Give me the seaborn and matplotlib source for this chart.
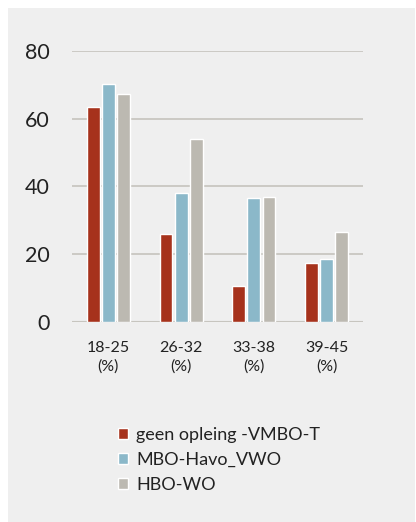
import pandas as pd
import seaborn as sns
import matplotlib.pyplot as plt
from matplotlib.patches import Rectangle

# data
age_groups = ["18-25\n(%)", "26-32\n(%)", "33-38\n(%)", "39-45\n(%)"]
geen_vmbo = [63.5, 26.0, 10.6, 17.4]
mbo_havo_vwo = [70.3, 38.2, 36.6, 18.6]
hbo_wo = [67.3, 54.0, 37.0, 26.7]
series_names = ["geen opleing -VMBO-T", "MBO-Havo_VWO", "HBO-WO"]
colors = ["#a6321c", "#8bb8c9", "#bcb9b1"]

df = pd.DataFrame({
    "group": age_groups * 3,
    "serie": [series_names[0]] * 4 + [series_names[1]] * 4 + [series_names[2]] * 4,
    "value": geen_vmbo + mbo_havo_vwo + hbo_wo,
})

sns.set_style("white")
plt.rcParams["font.family"] = ["Lato", "DejaVu Sans"]

fig = plt.figure(figsize=(4.16, 5.22), dpi=100, facecolor="white")
# light grey panel behind everything
fig.patches.append(Rectangle((8 / 416, 0), 1 - 9 / 416, 1 - 8 / 522,
                             transform=fig.transFigure, facecolor="#efefef",
                             edgecolor="none", zorder=-10))

ax = fig.add_axes([72 / 416, 1 - 322 / 522, 291 / 416, 271 / 522])
ax.set_facecolor("none")

sns.barplot(data=df, x="group", y="value", hue="serie", palette=colors,
            width=0.62, gap=0.15, saturation=1, ax=ax, legend=True)

ax.set_ylim(0, 80)
ax.set_xlim(-0.5, 3.5)
ax.set_yticks([0, 20, 40, 60, 80])
ax.yaxis.grid(True, color="#c9c7c1", linewidth=1.3)
ax.set_axisbelow(True)
for s in ax.spines.values():
    s.set_visible(False)
ax.axhline(0, color="#bdbbb5", linewidth=1.5, zorder=0.5)
ax.tick_params(axis="y", length=0, pad=16, labelsize=15.5, labelcolor="#222222")
ax.tick_params(axis="x", length=0, pad=14, labelsize=11.5, labelcolor="#222222")
for lbl in ax.get_xticklabels():
    lbl.set_linespacing(1.35)
ax.set_xlabel("")
ax.set_ylabel("")

handles, labels = ax.get_legend_handles_labels()
ax.get_legend().remove()
fig.legend(handles, labels, loc="upper left", bbox_to_anchor=(102 / 416, 1 - 411 / 522),
           frameon=False, fontsize=13, handlelength=0.55, handleheight=0.55,
           handletextpad=0.45, labelspacing=0.5, labelcolor="#222222")

fig.savefig("out.png", dpi=100, facecolor="white")
